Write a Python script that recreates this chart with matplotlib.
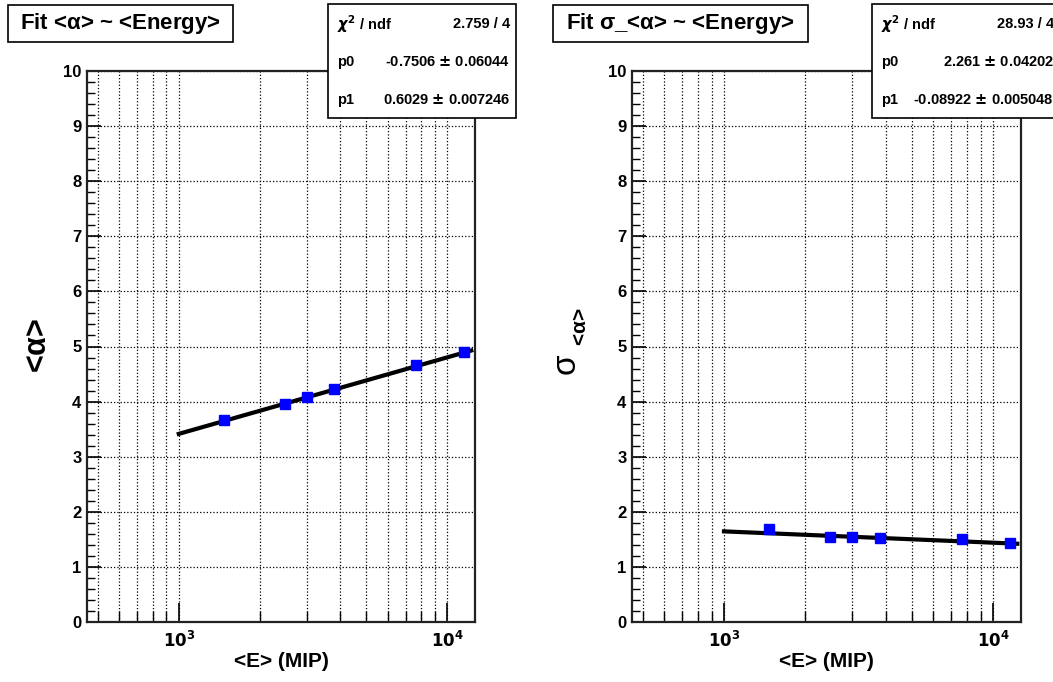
import matplotlib
matplotlib.use("Agg")
import matplotlib.pyplot as plt
import numpy as np
from matplotlib.patches import Rectangle
from matplotlib.ticker import LogLocator, FixedLocator, MultipleLocator, NullFormatter, FuncFormatter

plt.rcParams['font.family'] = ['Liberation Sans', 'DejaVu Sans']
plt.rcParams['font.weight'] = 'bold'
plt.rcParams['mathtext.fontset'] = 'dejavusans'

# donnees
energie = [1470, 2480, 3000, 3790, 7660, 11560]
alpha_moy = [3.67, 3.96, 4.08, 4.23, 4.66, 4.90]
sigma_alpha = [1.68, 1.55, 1.55, 1.53, 1.51, 1.44]

# parametres des fits (p0 + p1*ln E)
fit_alpha = [-0.7506, 0.6029]
fit_sigma = [2.261, -0.08922]
fit_range = [1000, 12300]

stats_alpha = [("$\\chi^{2}$ / ndf", "2.759 / 4"),
               ("p0", "-0.7506 $\\pm$ 0.06044"),
               ("p1", "0.6029 $\\pm$ 0.007246")]
stats_sigma = [("$\\chi^{2}$ / ndf", "28.93 / 4"),
               ("p0", "2.261 $\\pm$ 0.04202"),
               ("p1", "-0.08922 $\\pm$ 0.005048")]

W, H = 1053, 682
fig = plt.figure(figsize=(W / 100, H / 100), dpi=100)


def px_axes(x0, x1, y0, y1):
    return fig.add_axes([x0 / W, 1 - y1 / H, (x1 - x0) / W, (y1 - y0) / H])


def boite(x0, x1, y0, y1):
    r = Rectangle((x0 / W, 1 - y1 / H), (x1 - x0) / W, (y1 - y0) / H,
                  transform=fig.transFigure, facecolor="white",
                  edgecolor="black", lw=1.2, zorder=10, clip_on=False)
    fig.patches.append(r)


def panneau(x0, x1, y, p, titre, titre_box, stats, stats_box):
    ax = px_axes(x0, x1, 71, 622)
    ax.set_xscale("log")
    ax.set_xlim(455, 12700)
    ax.set_ylim(0, 10)

    xx = np.linspace(fit_range[0], fit_range[1], 200)
    ax.plot(xx, p[0] + p[1] * np.log(xx), color="black", lw=3, zorder=3)
    ax.plot(energie, y, "s", color="#0000ff", ms=7.5, zorder=4)

    ax.xaxis.set_major_locator(FixedLocator([1e3, 1e4]))
    ax.xaxis.set_minor_locator(LogLocator(base=10, subs=np.arange(2, 10)))
    ax.xaxis.set_major_formatter(FuncFormatter(
        lambda v, pos: "$\\mathbf{10^{%d}}$" % int(round(np.log10(v)))))
    ax.xaxis.set_minor_formatter(NullFormatter())
    ax.yaxis.set_major_locator(MultipleLocator(1))
    ax.yaxis.set_minor_locator(MultipleLocator(0.2))

    ax.tick_params(which="major", direction="in", length=14, width=1.2,
                   labelsize=12, pad=6)
    ax.tick_params(which="minor", direction="in", length=8, width=1.0)
    ax.tick_params(axis="y", which="major", length=10, pad=4)
    ax.tick_params(axis="y", which="minor", length=6)
    for lab in ax.get_yticklabels():
        lab.set_fontweight("bold")

    ax.grid(True, which="both", axis="x", linestyle=":", color="black", lw=0.9)
    ax.grid(True, which="major", axis="y", linestyle=":", color="black", lw=0.9)
    for s in ax.spines.values():
        s.set_linewidth(1.6)
        s.set_color("#222222")

    ax.set_xlabel("<E> (MIP)", fontsize=15, fontweight="bold", labelpad=1)

    # titre
    boite(*titre_box)
    fig.text((titre_box[0] + titre_box[1]) / 2 / W, 1 - (titre_box[2] + titre_box[3]) / 2 / H,
             titre, ha="center", va="center", fontsize=16, fontweight="bold", zorder=11)

    # boite de stats
    boite(*stats_box)
    rows_y = [24, 62, 100]
    for (lab, val), ry in zip(stats, rows_y):
        fig.text((stats_box[0] + 9) / W, 1 - ry / H, lab, ha="left", va="center",
                 fontsize=10.5, fontweight="bold", zorder=11)
        fig.text((stats_box[1] - 6) / W, 1 - ry / H, val, ha="right", va="center",
                 fontsize=10.5, fontweight="bold", zorder=11)
    return ax


panneau(87, 475, alpha_moy, fit_alpha, "Fit <$\\mathregular{\\alpha}$> ~ <Energy>",
        (8, 233, 5, 42), stats_alpha, (328, 516, 4, 118))
panneau(632, 1021, sigma_alpha, fit_sigma, "Fit $\\mathregular{\\sigma}$_<$\\mathregular{\\alpha}$> ~ <Energy>",
        (553, 808, 5, 42), stats_sigma, (872, 1060, 4, 118))

# titres des axes y
fig.text(38 / W, 1 - 345 / H, "<$\\mathregular{\\alpha}$>", rotation=90,
         ha="center", va="center", fontsize=22, fontweight="bold")
fig.text(567 / W, 1 - 365 / H, "$\\mathregular{\\sigma}$", rotation=90,
         ha="center", va="center", fontsize=24, fontweight="normal")
fig.text(580 / W, 1 - 327 / H, "<$\\mathregular{\\alpha}$>", rotation=90,
         ha="center", va="center", fontsize=15, fontweight="bold")

fig.savefig("out.png", dpi=100)
